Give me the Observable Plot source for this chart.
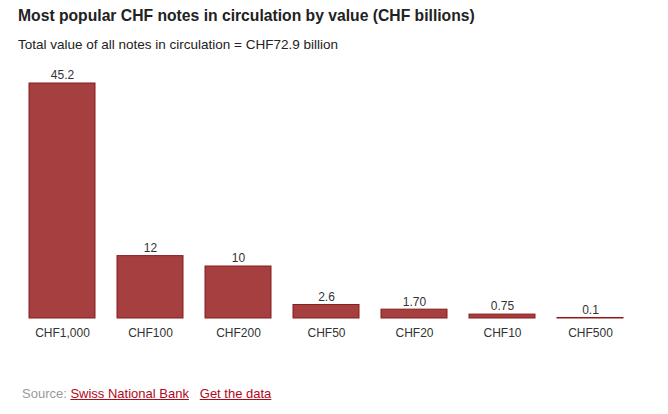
<!DOCTYPE html>
<html>
<head>
<meta charset="utf-8">
<script src="https://cdn.jsdelivr.net/npm/d3@7"></script>
<script src="https://cdn.jsdelivr.net/npm/@observablehq/plot@0.6"></script>
<style>
  body { margin: 0; background: #fff; font-family: "Liberation Sans", Arial, Helvetica, sans-serif; color: #333; }
  #wrap { position: relative; width: 668px; height: 414px; }
  #title { position: absolute; left: 18px; top: 7px; font-size: 15.7px; font-weight: bold; color: #222; white-space: nowrap; }
  #subtitle { position: absolute; left: 18px; top: 37px; font-size: 13.5px; color: #222; white-space: nowrap; }
  #chart { position: absolute; left: 0; top: 56px; }
  #footer { position: absolute; left: 22px; top: 386px; font-size: 13px; color: #999; white-space: nowrap; }
  #footer a { color: #b0081c; text-decoration: underline; }
</style>
</head>
<body>
<div id="wrap">
  <div id="title">Most popular CHF notes in circulation by value (CHF billions)</div>
  <div id="subtitle">Total value of all notes in circulation = CHF72.9 billion</div>
  <div id="chart"></div>
  <div id="footer">Source: <a>Swiss National Bank</a>&nbsp;&nbsp; <a>Get the data</a></div>
</div>
<script>
const notes = ["CHF1,000", "CHF100", "CHF200", "CHF50", "CHF20", "CHF10", "CHF500"];
const values = [45.2, 12, 10, 2.6, 1.70, 0.75, 0.1];
const valueLabels = ["45.2", "12", "10", "2.6", "1.70", "0.75", "0.1"];

const data = notes.map((n, i) => ({note: n, value: values[i], label: valueLabels[i]}));

const chart = Plot.plot({
  width: 668,
  height: 290,
  marginLeft: 17,
  marginRight: 34,
  marginTop: 27,
  marginBottom: 28,
  style: {fontFamily: "'Liberation Sans', Arial, Helvetica, sans-serif", fontSize: "12px", color: "#333", background: "#fff"},
  x: {domain: notes, paddingInner: 0.25, paddingOuter: 0.125, label: null},
  y: {domain: [0, 45.2], axis: null},
  marks: [
    Plot.barY(data, {x: "note", y: "value", fill: "#a63f3f", stroke: "#8a1c1c", strokeWidth: 1}),
    Plot.text(data, {x: "note", y: "value", text: "label", dy: -8, fill: "#333", fontSize: 12}),
    Plot.axisX({tickSize: 0, tickPadding: 10, fontSize: 12, fill: "#333", label: null})
  ]
});
document.getElementById("chart").appendChild(chart);
</script>
</body>
</html>
